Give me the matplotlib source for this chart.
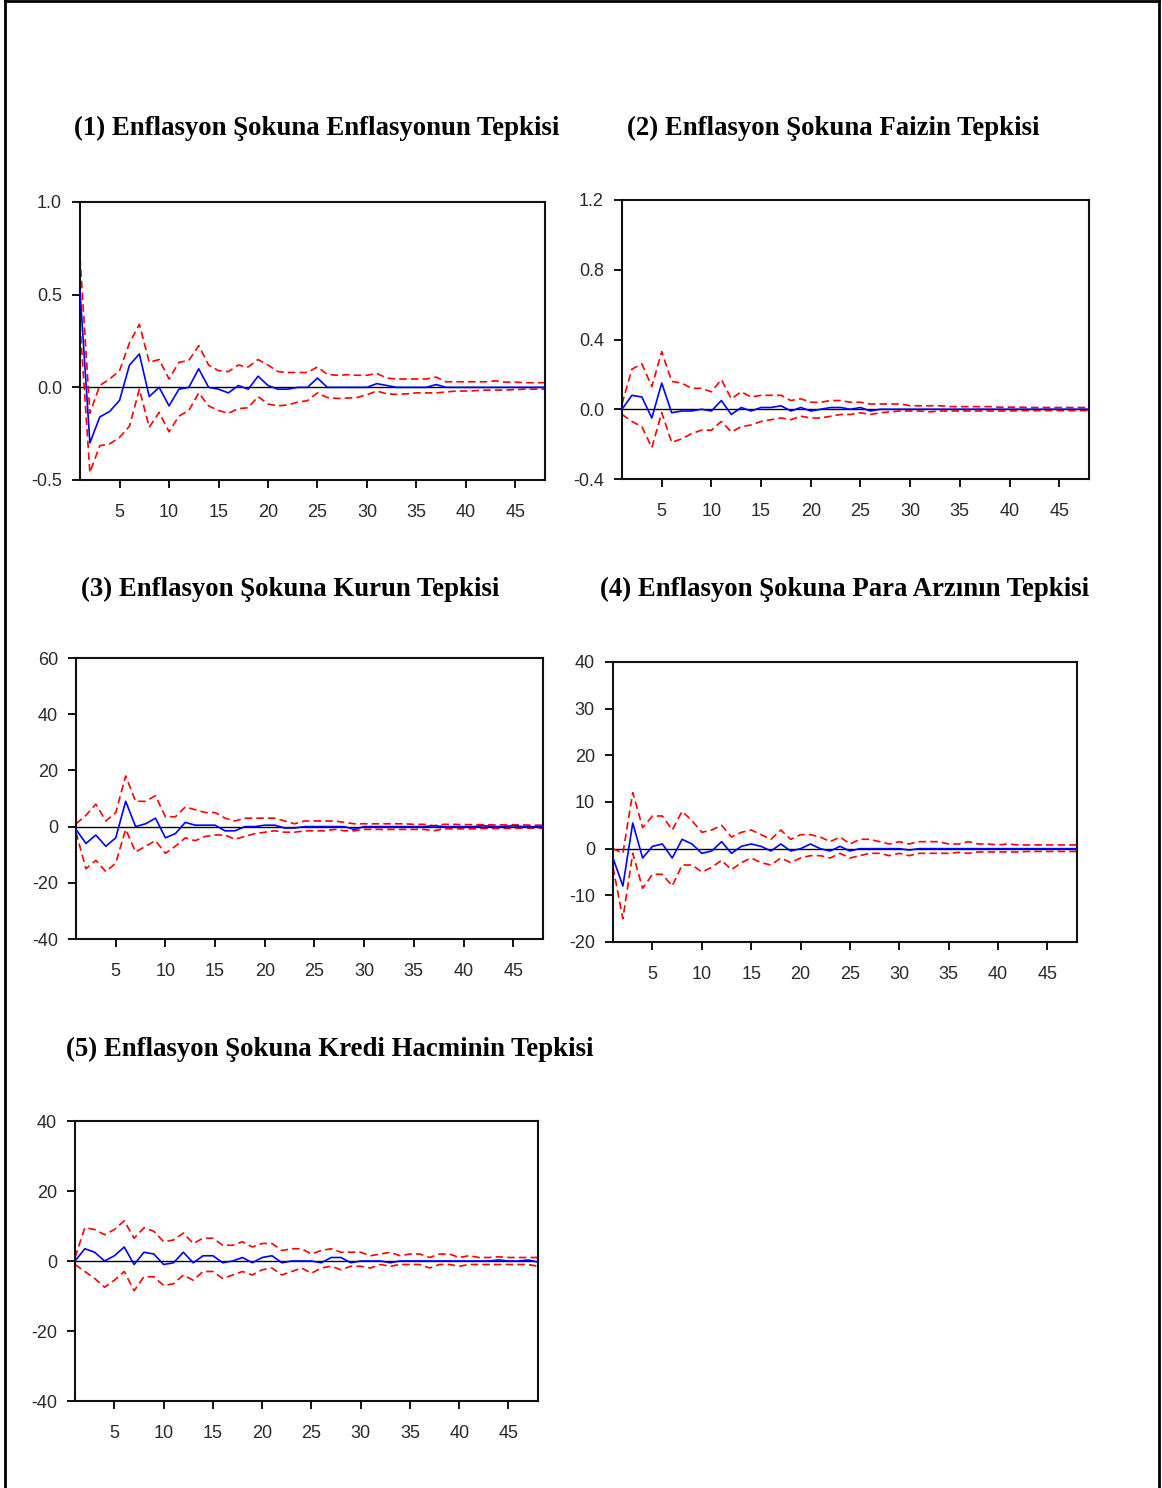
import numpy as np
import matplotlib
matplotlib.use("Agg")
import matplotlib.pyplot as plt
from matplotlib.lines import Line2D

plt.rcParams['font.family'] = ['Liberation Sans', 'DejaVu Sans']
plt.rcParams['axes.unicode_minus'] = False

periods = np.arange(1, 49)
x_ticks = [5, 10, 15, 20, 25, 30, 35, 40, 45]

titles = [
    "(1) Enflasyon Şokuna Enflasyonun Tepkisi",
    "(2) Enflasyon Şokuna Faizin Tepkisi",
    "(3) Enflasyon Şokuna Kurun Tepkisi",
    "(4) Enflasyon Şokuna Para Arzının Tepkisi",
    "(5) Enflasyon Şokuna Kredi Hacminin Tepkisi",
]

# (1) enflasyon
resp1 = [0.52, -0.30, -0.16, -0.13, -0.07, 0.12, 0.18, -0.05, 0.00, -0.10, -0.01, 0.00,
         0.10, 0.00, -0.01, -0.03, 0.01, -0.01, 0.06, 0.01, -0.01, -0.01, 0.00, 0.00,
         0.05, 0.00, 0.00, 0.00, 0.00, 0.00, 0.02, 0.01, 0.00, 0.00, 0.00, 0.00,
         0.015, 0.00, 0.00, 0.00, 0.00, 0.00, 0.00, 0.00, 0.00, 0.00, 0.00, 0.00]
upper1 = [0.70, -0.14, 0.01, 0.045, 0.09, 0.24, 0.34, 0.135, 0.15, 0.045, 0.135, 0.145,
          0.225, 0.12, 0.09, 0.085, 0.12, 0.11, 0.15, 0.12, 0.085, 0.08, 0.08, 0.08,
          0.11, 0.07, 0.065, 0.068, 0.065, 0.065, 0.075, 0.05, 0.045, 0.045, 0.045, 0.045,
          0.055, 0.03, 0.03, 0.03, 0.03, 0.03, 0.035, 0.028, 0.028, 0.025, 0.025, 0.025]
lower1 = [0.34, -0.46, -0.315, -0.305, -0.27, -0.21, -0.01, -0.215, -0.135, -0.24, -0.155, -0.125,
          -0.03, -0.10, -0.125, -0.14, -0.115, -0.11, -0.05, -0.09, -0.10, -0.095, -0.08, -0.072,
          -0.03, -0.055, -0.06, -0.058, -0.055, -0.04, -0.02, -0.035, -0.038, -0.035, -0.03, -0.03,
          -0.03, -0.025, -0.02, -0.02, -0.018, -0.015, -0.015, -0.015, -0.012, -0.01, -0.01, -0.01]

# (2) faiz
resp2 = [0.00, 0.08, 0.07, -0.05, 0.15, -0.02, -0.01, -0.01, 0.00, -0.01, 0.05, -0.03,
         0.01, -0.01, 0.01, 0.01, 0.02, -0.01, 0.01, -0.01, 0.00, 0.01, 0.01, 0.00,
         0.01, -0.01, 0.00, 0.00, 0.00, 0.00, 0.00, 0.00, 0.00, 0.00, 0.00, 0.00,
         0.00, 0.00, 0.00, 0.00, 0.00, 0.00, 0.00, 0.00, 0.00, 0.00, 0.00, 0.00]
upper2 = [0.03, 0.23, 0.26, 0.13, 0.33, 0.16, 0.15, 0.12, 0.12, 0.10, 0.17, 0.06,
          0.10, 0.07, 0.08, 0.08, 0.08, 0.05, 0.06, 0.04, 0.04, 0.05, 0.05, 0.04,
          0.04, 0.03, 0.03, 0.03, 0.03, 0.02, 0.02, 0.02, 0.02, 0.015, 0.015, 0.015,
          0.015, 0.015, 0.012, 0.012, 0.012, 0.01, 0.01, 0.01, 0.01, 0.01, 0.01, 0.01]
lower2 = [-0.03, -0.07, -0.10, -0.22, -0.02, -0.19, -0.17, -0.14, -0.12, -0.12, -0.07, -0.13,
          -0.10, -0.09, -0.07, -0.06, -0.05, -0.06, -0.04, -0.05, -0.05, -0.04, -0.03, -0.03,
          -0.02, -0.03, -0.02, -0.015, -0.01, -0.01, -0.01, -0.015, -0.01, -0.01, -0.01, -0.01,
          -0.01, -0.01, -0.01, -0.01, -0.008, -0.008, -0.008, -0.008, -0.008, -0.008, -0.008, -0.008]

# (3) kur
resp3 = [-1, -6, -3, -7, -4, 9, 0, 1, 3, -4, -2.5, 1.5,
         0.5, 0.5, 0.5, -1.5, -1.5, 0, 0, 0.5, 0.5, -0.5, -0.5, 0,
         0, 0, 0, 0, -1, 0, 0, 0, 0, 0, 0, 0,
         0.3, 0, 0, 0, 0, 0.3, 0, 0, 0.3, 0, 0, 0]
upper3 = [1, 4, 8, 2, 5, 18, 9, 9, 11, 3.5, 3.5, 7,
          6, 5, 5, 3, 2, 3, 3, 3, 3, 2, 1, 2,
          2, 2, 2, 1.5, 1, 1, 1, 1, 1, 1, 0.8, 0.8,
          0.3, 0.8, 0.8, 0.7, 0.7, 0.7, 0.6, 0.6, 0.6, 0.6, 0.5, 0.5]
lower3 = [-2, -15, -12, -16, -13, -1, -9, -7, -5, -9.5, -7, -4,
          -5, -3.5, -3, -3, -4.5, -3.5, -2.5, -2, -1.5, -2, -2, -1.5,
          -1.5, -1.5, -1, -1.5, -1.5, -1, -1, -1, -1, -1, -1, -1,
          -1.5, -0.8, -0.8, -0.8, -0.8, -0.7, -0.7, -0.7, -0.6, -0.6, -0.6, -0.6]

# (4) para arzi
resp4 = [-2, -8, 5.5, -2, 0.5, 1, -2, 2, 1, -1, -0.5, 1.5,
         -1, 0.5, 1, 0.5, -0.5, 1, -0.5, 0, 1, 0, -0.5, 0.5,
         -0.5, 0, 0, 0, 0, 0, -0.3, 0, 0, 0, 0, 0,
         0, 0, 0, 0, 0, 0, 0, 0, 0, 0, 0, 0]
upper4 = [0, -1, 12, 4.5, 7, 7, 4, 8, 6, 3.5, 4, 5,
          2.5, 3.5, 4, 3, 2, 4, 2, 3, 3, 2.5, 1.5, 2.5,
          1, 2, 2, 1.5, 1, 1.5, 1, 1.5, 1.5, 1.5, 1, 1,
          1.5, 1, 1, 0.8, 1, 0.8, 0.8, 0.8, 0.8, 0.8, 0.8, 0.8]
lower4 = [-4, -15, -1, -8.5, -5.5, -5.5, -8, -3.5, -3.5, -5, -4, -2.5,
          -4.5, -3, -2, -3, -3.5, -2, -3, -2, -1.5, -1.5, -2, -1,
          -2, -1.5, -1, -1, -1.5, -1, -1.5, -1, -1, -1, -1, -0.8,
          -1, -0.7, -0.7, -0.7, -0.7, -0.7, -0.6, -0.6, -0.6, -0.6, -0.6, -0.6]

# (5) kredi hacmi
resp5 = [0, 3.5, 2.5, 0, 1.5, 4, -1, 2.5, 2, -1, -0.5, 2.5,
         -0.5, 1.5, 1.5, -0.5, 0, 1, -0.5, 1, 1.5, -0.5, 0, 0,
         0, -0.5, 1, 1, -0.5, 0, 0, 0, -0.5, 0, 0, 0,
         0, 0, 0, 0, 0, 0, 0, 0.3, 0, 0, 0.3, -0.3]
upper5 = [1, 9.5, 9, 7.5, 9, 11.5, 6.5, 9.5, 8.5, 5.5, 6, 8,
          5, 6.5, 6.5, 4.5, 4.5, 5.5, 4, 5, 5, 3, 3.5, 3.5,
          2, 3, 3.5, 2.5, 2.5, 2.5, 1.5, 2, 2.5, 1.5, 2, 2,
          1, 2, 2, 1, 1.5, 1, 1, 1.2, 1, 1, 1, 1]
lower5 = [-1, -3, -5, -7.5, -5.5, -3, -8.5, -4.5, -4.5, -7, -6.5, -4,
          -5.5, -3, -3, -5, -4, -3, -4, -2.5, -2, -4, -3, -2,
          -3.5, -2, -1.5, -2.5, -1.5, -1.5, -2, -1, -1.5, -1, -1, -1,
          -2, -1, -1, -1.5, -1, -1, -1, -1, -1, -1, -1, -1.5]

y_ticks = [
    [-0.5, 0.0, 0.5, 1.0],
    [-0.4, 0.0, 0.4, 0.8, 1.2],
    [-40, -20, 0, 20, 40, 60],
    [-20, -10, 0, 10, 20, 30, 40],
    [-40, -20, 0, 20, 40],
]
y_fmt = ["%.1f", "%.1f", "%.0f", "%.0f", "%.0f"]

W, H = 1162, 1488
fig = plt.figure(figsize=(W / 100, H / 100), dpi=100)

# pixel boxes: left, right, top, bottom
boxes = [(80, 545, 202, 480), (622, 1089, 200, 479), (76, 543, 658, 939),
         (613, 1077, 662, 942), (75, 538, 1121, 1401)]
title_pos = [(317, 128), (833, 128), (290, 589), (845, 589), (330, 1049)]

series = [(resp1, upper1, lower1), (resp2, upper2, lower2), (resp3, upper3, lower3),
          (resp4, upper4, lower4), (resp5, upper5, lower5)]

for i in range(5):
    l, r, t, b = boxes[i]
    ax = fig.add_axes([l / W, 1 - b / H, (r - l) / W, (b - t) / H])
    resp, up, lo = series[i]
    ax.axhline(0, color='black', lw=1.0, zorder=1)
    ax.plot(periods, resp, color='#0000ff', lw=1.2, zorder=3)
    ax.plot(periods, up, color='#ff0000', lw=1.2, dashes=(4.5, 2.5), zorder=2)
    ax.plot(periods, lo, color='#ff0000', lw=1.2, dashes=(4.5, 2.5), zorder=2)
    ax.set_xlim(1, 48)
    ax.set_ylim(y_ticks[i][0], y_ticks[i][-1])
    ax.set_xticks(x_ticks)
    ax.set_yticks(y_ticks[i])
    ax.set_yticklabels([y_fmt[i] % v for v in y_ticks[i]])
    ax.tick_params(direction='out', length=6, width=1.3, labelsize=13,
                   labelcolor='#2a2a2a', pad=7)
    ax.tick_params(axis='x', pad=11)
    for s in ax.spines.values():
        s.set_linewidth(1.5)
        s.set_color('#111111')
    tx, ty = title_pos[i]
    fig.text(tx / W, 1 - ty / H, titles[i], ha='center', va='center',
             family=['Liberation Serif', 'DejaVu Serif'], weight='bold', fontsize=19.3)

# page border
fig.add_artist(Line2D([5 / W, 5 / W], [0, 1 - 1 / H], color='black', lw=2))
fig.add_artist(Line2D([1159 / W, 1159 / W], [0, 1 - 1 / H], color='black', lw=2))
fig.add_artist(Line2D([5 / W, 1159 / W], [1 - 1 / H, 1 - 1 / H], color='black', lw=2))

fig.savefig("out.png", dpi=100)
